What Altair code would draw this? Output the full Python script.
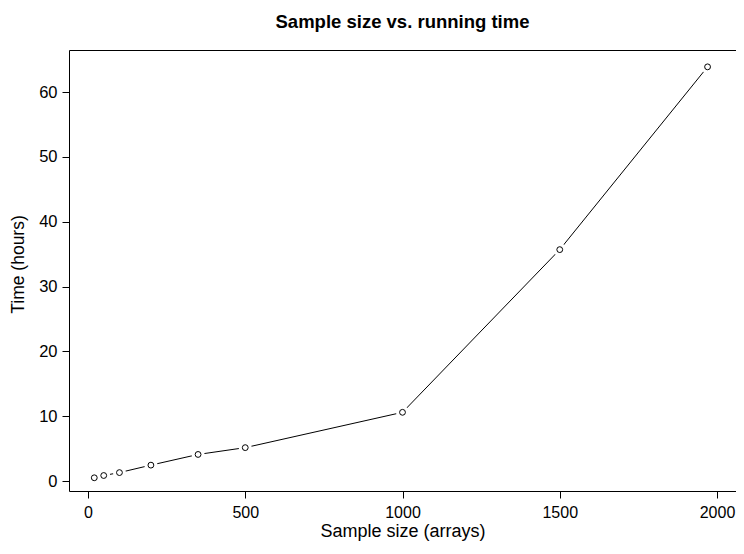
import altair as alt
import pandas as pd

sample_size = [20, 50, 100, 200, 350, 500, 1000, 1500, 1970]
hours = [0.5, 0.85, 1.3, 2.45, 4.1, 5.15, 10.6, 35.7, 63.9]
x_ticks = [0, 500, 1000, 1500, 2000]
y_ticks = [0, 10, 20, 30, 40, 50, 60]

df = pd.DataFrame({"size": sample_size, "hours": hours})

FONT = "Liberation Sans"

x_enc = alt.X(
    "size:Q",
    scale=alt.Scale(domain=[-60.4, 2060.4], nice=False, zero=False),
    axis=alt.Axis(
        values=x_ticks, format="d", title="Sample size (arrays)", domain=False,
        grid=False, tickSize=7, tickColor="black", tickWidth=1,
        labelColor="black", labelFontSize=16, labelFont=FONT, labelPadding=6,
        titleFont=FONT, titleFontSize=18, titleFontWeight="normal",
        titleColor="black", titlePadding=2,
    ),
)
y_enc = alt.Y(
    "hours:Q",
    scale=alt.Scale(domain=[-1.54, 66.5], nice=False, zero=False),
    axis=alt.Axis(
        values=y_ticks, format="d", title="Time (hours)", domain=False,
        grid=False, tickSize=7, tickColor="black", tickWidth=1,
        labelColor="black", labelFontSize=16.5, labelFont=FONT, labelPadding=5,
        labelAngle=0, titleFont=FONT, titleFontSize=17.5,
        titleFontWeight="normal", titleColor="black", titleX=-51, titleY=214,
        titleAngle=-90, titleBaseline="middle", titleAlign="center",
    ),
)

base = alt.Chart(df).encode(x=x_enc, y=y_enc)

line = base.mark_line(color="black", strokeWidth=1)
halo = base.mark_point(shape="circle", size=170, filled=True, color="white", opacity=1)
pts = base.mark_point(shape="circle", size=34, filled=False, color="black",
                      strokeWidth=1, fill="white", fillOpacity=1, opacity=1)

chart = (
    alt.layer(line, halo, pts)
    .properties(
        width=667, height=441,
        autosize=alt.AutoSizeParams(type="none"),
        padding={"left": 61, "top": 42, "right": 0, "bottom": 51},
        title=alt.TitleParams(
            "Sample size vs. running time", font=FONT, fontSize=18.5,
            fontWeight="bold", color="black", anchor="middle", offset=19,
        ),
    )
    .configure(background="white")
    .configure_view(stroke="black", strokeWidth=1)
)

chart.save("out.html", embed_options={"renderer": "svg", "actions": False})
